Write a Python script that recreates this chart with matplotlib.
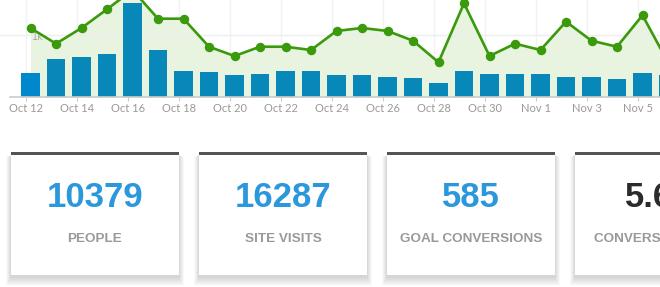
import numpy as np
import matplotlib.pyplot as plt
from matplotlib.patches import Rectangle

# daily series, Oct 12 .. Nov 6
days = ['Oct 12', 'Oct 13', 'Oct 14', 'Oct 15', 'Oct 16', 'Oct 17', 'Oct 18',
        'Oct 19', 'Oct 20', 'Oct 21', 'Oct 22', 'Oct 23', 'Oct 24', 'Oct 25',
        'Oct 26', 'Oct 27', 'Oct 28', 'Oct 29', 'Oct 30', 'Oct 31', 'Nov 1',
        'Nov 2', 'Nov 3', 'Nov 4', 'Nov 5', 'Nov 6']
people = [387, 608, 640, 694, 1516, 753, 415, 398, 350, 366, 415, 415, 350,
          350, 318, 302, 221, 415, 366, 366, 366, 318, 318, 285, 382, 350]
visits = [1113, 860, 1113, 1415, 1726, 1263, 1263, 811, 661, 811, 811, 758,
          1065, 1113, 1065, 908, 560, 1511, 661, 860, 758, 1215, 908, 811,
          1318, 560]
tick_labels = ['Oct 12', 'Oct 14', 'Oct 16', 'Oct 18', 'Oct 20', 'Oct 22',
               'Oct 24', 'Oct 26', 'Oct 28', 'Oct 30', 'Nov 1', 'Nov 3', 'Nov 5']

card_values = ['10379', '16287', '585', '5.64']
card_labels = ['PEOPLE', 'SITE VISITS', 'GOAL CONVERSIONS', 'CONVERSION RATE']
card_colors = ['#2b97dd', '#2b97dd', '#2b97dd', '#2b2b2b']

W, H = 660, 287
fig = plt.figure(figsize=(W / 100, H / 100), dpi=100)

# chart strip at the top
ax = fig.add_axes([0, 1 - 97 / H, 1, 97 / H])
x = np.arange(len(days))
ax.fill_between(x, visits, color='#e8f3e0', lw=0, zorder=1)
bar_colors = ['#0088cc'] + ['#0788b9'] * (len(days) - 1)
ax.bar(x, people, width=0.745, color=bar_colors, zorder=2)
ax.plot(x, visits, color='#3a9a0c', lw=1.9, marker='o', ms=5.8, zorder=3)

ax.set_xlim(-30.5 / 25.5, 629.5 / 25.5)
ax.set_ylim(0, 97 / 62 * 1000)
ax.axhline(1000, color='#eeeeee', lw=1, zorder=1.5)
tick_pos = np.arange(0, len(tick_labels) * 2, 2) - 0.16
for p in tick_pos:
    ax.axvline(p, color='#f2f2f2', lw=1, zorder=0.5)
ax.plot([-0.8, 26], [0, 0], color='#cccccc', lw=1.2, clip_on=False, zorder=4)
ax.text(0.05, 975, '1k', color='#aaaaaa', fontsize=7, va='center', ha='left',
        zorder=2.5)

ax.set_xticks(tick_pos, tick_labels)
ax.set_yticks([])
ax.tick_params(axis='x', length=2.6, color='#cccccc', labelcolor='#999999',
               labelsize=8, pad=2)
for lab in ax.get_xticklabels():
    lab.set_family('Lato')
for s in ax.spines.values():
    s.set_visible(False)
ax.patch.set_alpha(0)

# summary cards below, laid out in pixel space
ov = fig.add_axes([0, 0, 1, 1])
ov.set_xlim(0, W)
ov.set_ylim(H, 0)
ov.axis('off')
ov.patch.set_alpha(0)

for i, (val, lab, col) in enumerate(zip(card_values, card_labels, card_colors)):
    x0, top, w, h = 11 + 188 * i, 152, 168, 123
    # soft drop shadow
    for k in range(1, 15):
        ov.add_patch(Rectangle((x0 - k * 0.35, top + 2 + k * 0.2), w + k * 0.7,
                               h + k * 0.45, fc='black', alpha=0.011, lw=0))
    ov.add_patch(Rectangle((x0, top), w, h, fc='white', lw=0))
    ov.add_patch(Rectangle((x0, top), w, 3, fc='#555555', lw=0))
    ov.text(x0 + w / 2, 206.7, val, ha='center', va='baseline', fontsize=25,
            fontweight='bold', color=col, family='Liberation Sans')
    ov.text(x0 + w / 2, 241.7, lab, ha='center', va='baseline', fontsize=9.7,
            fontweight='bold', color='#999999', family='Liberation Sans')

fig.savefig('out.png', dpi=100)
